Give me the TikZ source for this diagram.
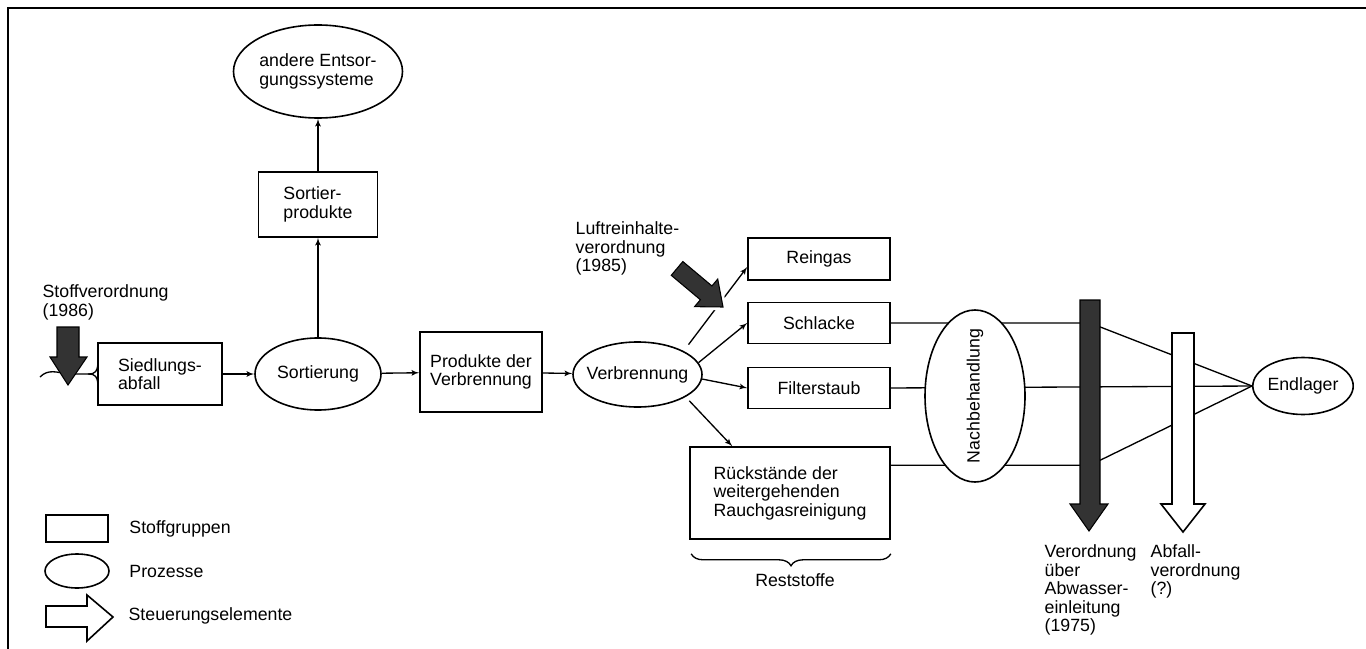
\documentclass[tikz,border=0pt]{standalone}
\usepackage{fontspec}
\setmainfont{Liberation Sans}
\usetikzlibrary{positioning,arrows,calc,shapes,backgrounds,decorations.pathreplacing}
\tikzset{
    stoff/.style = {
        draw,
        shape=rectangle,
        fill=white,
        inner sep=0pt,
        line width=1.2pt
    },
    prozess/.style = {
        draw,
        shape=ellipse,
        fill=white,
        inner sep=0pt,
        line width=1.2pt
    },
    leitung/.style = {
        draw,
        line width=1pt
    },
    steuerdunkel/.style = {
        draw=black,
        fill=black!80,
        line width=0.8pt
    },
    steuerhell/.style = {
        draw=black,
        fill=white,
        line width=1.2pt
    },
    beschrift/.style = {
        inner sep=0pt,
        align=left,
        anchor=north west
    },
    >=latex',
}

\begin{document}
\begin{tikzpicture}[x=0.75pt, y=-0.75pt, line width=1pt, font=\fontsize{13.3}{13.9}\selectfont]
            \useasboundingbox (0,0) rectangle (1366,649);
            \path[draw, line width=1.4pt] (8,649) -- (8,8) -- (1366,8);

            \node[stoff, minimum width=93pt, minimum height=46.5pt, align=left] (siedlung) at (160,374) {Siedlungs-\\abfall};
            \node[prozess, minimum width=94.5pt, minimum height=54pt] (sortierung) at (318,374) {Sortierung};
            \node[stoff, minimum width=89.25pt, minimum height=48.75pt, align=left] (sortprod) at (318,204.5) {Sortier-\\produkte};
            \node[prozess, minimum width=126.75pt, minimum height=69.75pt, align=left] (andere) at (318,71.5) {andere Entsor-\\gungssysteme};
            \node[stoff, minimum width=91.5pt, minimum height=60pt, align=center] (produkte) at (481,372) {Produkte der\\Verbrennung};
            \node[prozess, minimum width=96.75pt, minimum height=48.75pt] (verbrennung) at (637.5,374.5) {\makebox[0pt]{Verbrennung}};
            \node[stoff, minimum width=106.5pt, minimum height=31.5pt] (reingas) at (819,259) {Reingas};
            \node[stoff, minimum width=106.5pt, minimum height=30.75pt] (schlacke) at (819,323) {Schlacke};
            \node[stoff, minimum width=106.5pt, minimum height=30.75pt] (filter) at (819,388) {Filterstaub};
            \node[stoff, minimum width=150pt, minimum height=69pt, align=left] (rueck) at (790,493) {Rückstände der\\weitergehenden\\Rauchgasreinigung};
            \node[prozess, rotate=90, minimum width=129pt, minimum height=75pt] (nachbeh) at (975,396) {\makebox[0pt]{Nachbehandlung}};
            \node[prozess, minimum width=75pt, minimum height=42.75pt] (endlager) at (1303,386) {Endlager};

            \coordinate (eingang) at (40,377);
            \coordinate (stoffpfeil) at (68,327);
            \coordinate (abwasser) at (1090,300);
            \coordinate (abfall) at (1183,333);
            \coordinate (rueckaus) at ($(rueck.north east)+(0,19)$);

            % Linien zur Nachbehandlung und zum Endlager
            \begin{scope}[on background layer]
                \path[leitung] (eingang) .. controls (48,369) and (56,372) .. (68,374) -- (88,374);
                \path[leitung] (88,374) .. controls (96,374) and (97,371) .. (98,364);
                \path[leitung] (88,374) .. controls (96,374) and (97,377) .. (98,384);
                \path[leitung] (schlacke.east) -- (schlacke.east -| abwasser) -- (endlager.west);
                \path[leitung] (filter.east) -- (endlager.west);
                \path[leitung] (rueckaus) -- (rueckaus -| abwasser) -- (endlager.west);
            \end{scope}

            \path[draw, ->] (siedlung) -- (sortierung);
            \path[draw, ->] (sortierung) -- (sortprod);
            \path[draw, ->] (sortprod) -- (andere);
            \path[draw, ->] (sortierung) -- (produkte);
            \path[draw, ->] (produkte) -- (verbrennung);
            \path[draw, ->, shorten <=6pt] (verbrennung.27) -- ([yshift=-6pt]reingas.west);
            \path[draw, ->] (verbrennung.11) -- (schlacke.west);
            \path[draw, ->] (verbrennung.-4) -- (filter.west);
            \path[draw, ->, shorten <=4pt] (verbrennung.-25) -- ($(rueck.north west)+(43,0)$);

            % Steuerungselemente
            \path[steuerdunkel, shift={(stoffpfeil)}] (-11,0) -- (11,0) -- (11,30) -- (19,30) -- (0,58) -- (-18,30) -- (-11,30) -- cycle;
            \path[steuerdunkel, preaction={draw=white, line width=5pt}, shift={(723,307)}, rotate=-40] (-60,-9) -- (-22,-9) -- (-22,-18) -- (0,0) -- (-22,18) -- (-22,9) -- (-60,9) -- cycle;
            \path[steuerdunkel, shift={(abwasser)}] (-10,0) -- (10,0) -- (10,204) -- (18,204) -- (-1,231) -- (-20,204) -- (-10,204) -- cycle;
            \path[steuerhell, shift={(abfall)}] (-11,0) -- (11,0) -- (11,171) -- (22,171) -- (0,199) -- (-22,171) -- (-11,171) -- cycle;

            \path[draw, decorate, decoration={brace, mirror, amplitude=9pt}] ($(rueck.south west)+(2,14)$) -- ($(rueck.south east)+(0,14)$);
            \node (reststoffe) at (795,580) {Reststoffe};

            \node[beschrift] (stoffvo) at (42,284) {Stoffverordnung\\(1986)};
            \node[beschrift] (luftvo) at (575,221) {Luftreinhalte-\\verordnung\\(1985)};
            \node[beschrift] (abwasservo) at (1044,544) {Verordnung\\über\\Abwasser-\\einleitung\\(1975)};
            \node[beschrift] (abfallvo) at (1150,544) {Abfall-\\verordnung\\(?)};

            % Legende
            \node[stoff, minimum width=46.5pt, minimum height=20.25pt] (legstoff) at (77,528.5) {};
            \node[prozess, minimum width=48pt, minimum height=25.5pt] (legprozess) at (77,571) {};
            \coordinate (legsteuer) at (46,616.5);
            \path[steuerhell, shift={(legsteuer)}] (0,-10.5) -- (41,-10.5) -- (41,-21.5) -- (67,0.5) -- (41,24.5) -- (41,10.5) -- (0,10.5) -- cycle;
            \node[beschrift, anchor=west, right=15pt of legstoff] (legstofftxt) {Stoffgruppen};
            \node[beschrift, anchor=west, right=14.25pt of legprozess] (legprozesstxt) {Prozesse};
            \node[beschrift, anchor=west] (legsteuertxt) at (128,616) {Steuerungselemente};

        \end{tikzpicture}
\end{document}
